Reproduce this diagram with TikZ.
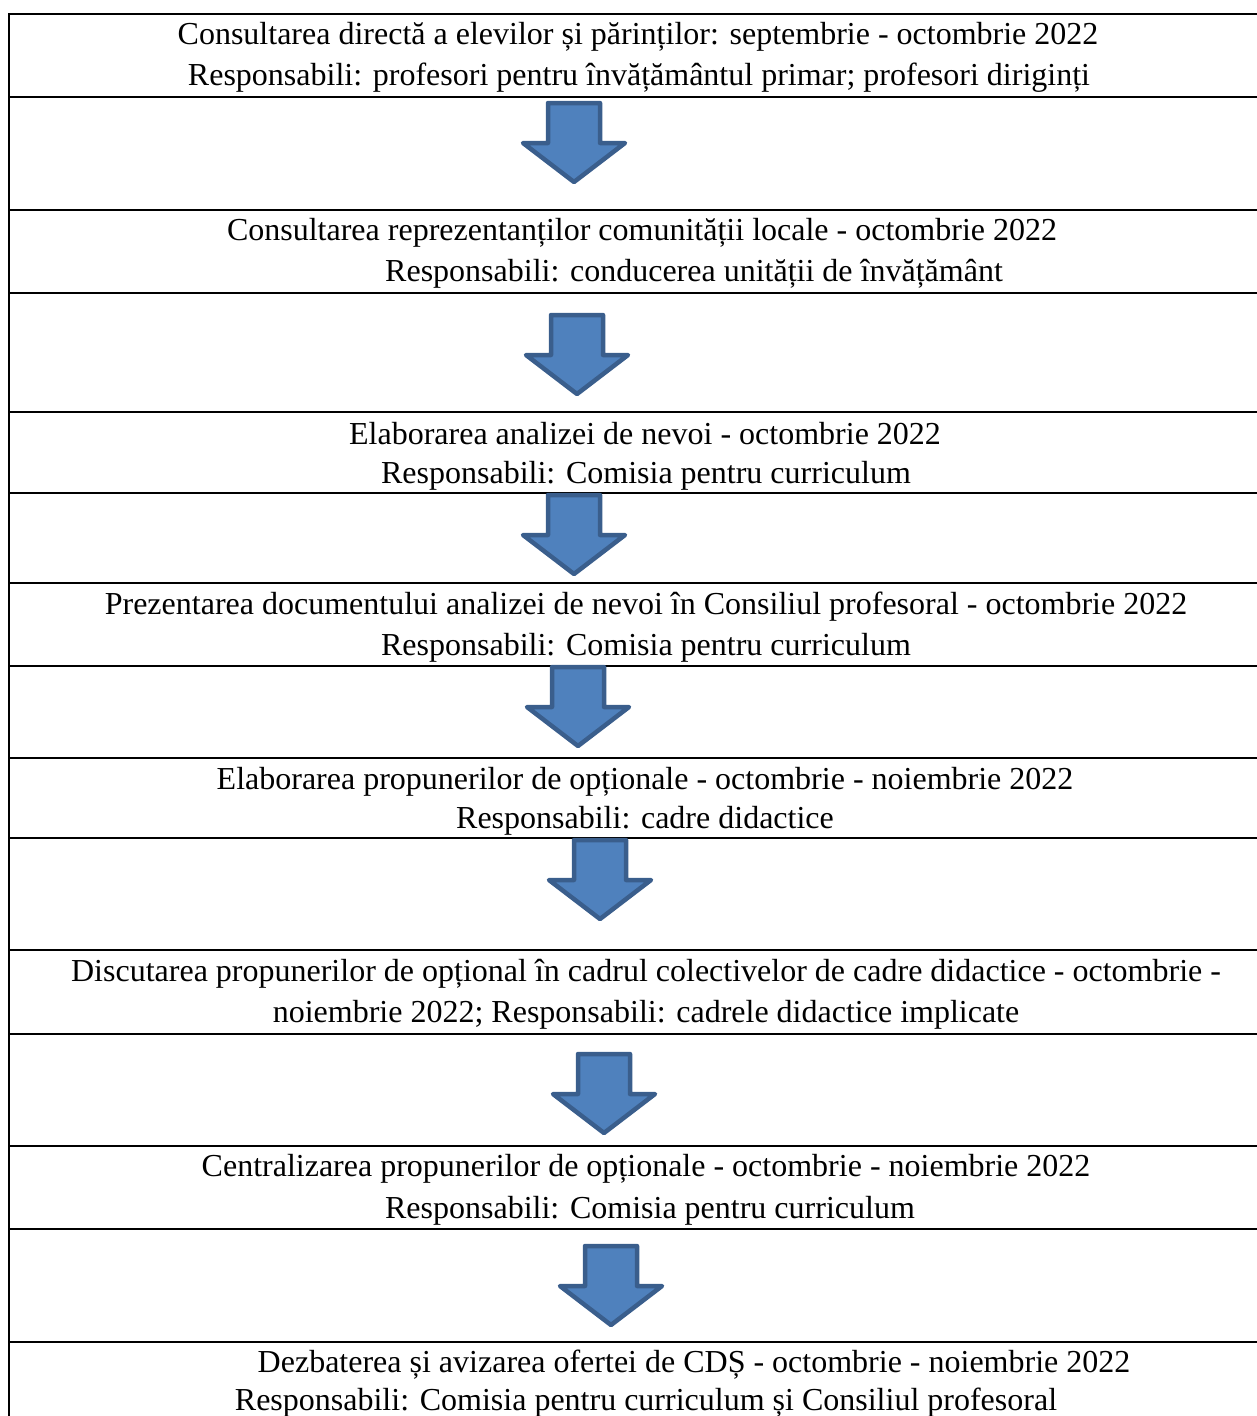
\documentclass[tikz,border=0pt]{standalone}
\usepackage{fontspec}
\setmainfont{Liberation Serif}
\usetikzlibrary{positioning}
\definecolor{arrowfill}{HTML}{4F81BD}
\definecolor{arrowline}{HTML}{3A5E8C}
\tikzset{
  rowtext/.style={anchor=base,inner sep=0pt,font=\fontsize{32}{38}\selectfont},
  rule/.style={line width=2.4pt},
  blockarrow/.style={fill=arrowfill,draw=arrowline,line width=4.5pt,line join=round}
}
% block arrow, top centre at (#1,#2)
\newcommand{\flowarrow}[2]{%
  \draw[blockarrow,shift={(#1,#2)}] (-26,0) -- (26,0) -- (26,40) -- (51,40)
    -- (0,79) -- (-51,40) -- (-26,40) -- cycle;}

\begin{document}
\begin{tikzpicture}[line cap=rect,x=1pt,y=-1pt]
\useasboundingbox (0,0) rectangle (1256,1416);

\draw[rule] (9,14) -- (9,1416);
\foreach \y in {14,97,210,293,412,493,583,666,758,838,950,1034,1146,1229,1342}
  \draw[rule] (9,\y) -- (1258,\y);

\node[rowtext] (r1a) at (638,44) {Consultarea directă a elevilor și părinților: septembrie - octombrie 2022};
\node[rowtext] (r1b) at (639,85) {Responsabili: profesori pentru învățământul primar; profesori diriginți};
\flowarrow{574}{103}

\node[rowtext] (r2a) at (642,240) {Consultarea reprezentanților comunității locale - octombrie 2022};
\node[rowtext] (r2b) at (694,281) {Responsabili: conducerea unității de învățământ};
\flowarrow{577}{315}

\node[rowtext] (r3a) at (645,444) {Elaborarea analizei de nevoi - octombrie 2022};
\node[rowtext] (r3b) at (646,483) {Responsabili: Comisia pentru curriculum};
\flowarrow{574}{495}

\node[rowtext] (r4a) at (646,614) {Prezentarea documentului analizei de nevoi în Consiliul profesoral - octombrie 2022};
\node[rowtext] (r4b) at (646,655) {Responsabili: Comisia pentru curriculum};
\flowarrow{578}{667}

\node[rowtext] (r5a) at (645,789) {Elaborarea propunerilor de opționale - octombrie - noiembrie 2022};
\node[rowtext] (r5b) at (645,828) {Responsabili: cadre didactice};
\flowarrow{600}{840}

\node[rowtext] (r6a) at (646,981) {Discutarea propunerilor de opțional în cadrul colectivelor de cadre didactice - octombrie -};
\node[rowtext] (r6b) at (646,1022) {noiembrie 2022; Responsabili: cadrele didactice implicate};
\flowarrow{604}{1054}

\node[rowtext] (r7a) at (646,1176) {Centralizarea propunerilor de opționale - octombrie - noiembrie 2022};
\node[rowtext] (r7b) at (650,1218) {Responsabili: Comisia pentru curriculum};
\flowarrow{611}{1246}

\node[rowtext] (r8a) at (694,1372) {Dezbaterea și avizarea ofertei de CDȘ - octombrie - noiembrie 2022};
\node[rowtext] (r8b) at (646,1410) {Responsabili: Comisia pentru curriculum și Consiliul profesoral};
\end{tikzpicture}
\end{document}
